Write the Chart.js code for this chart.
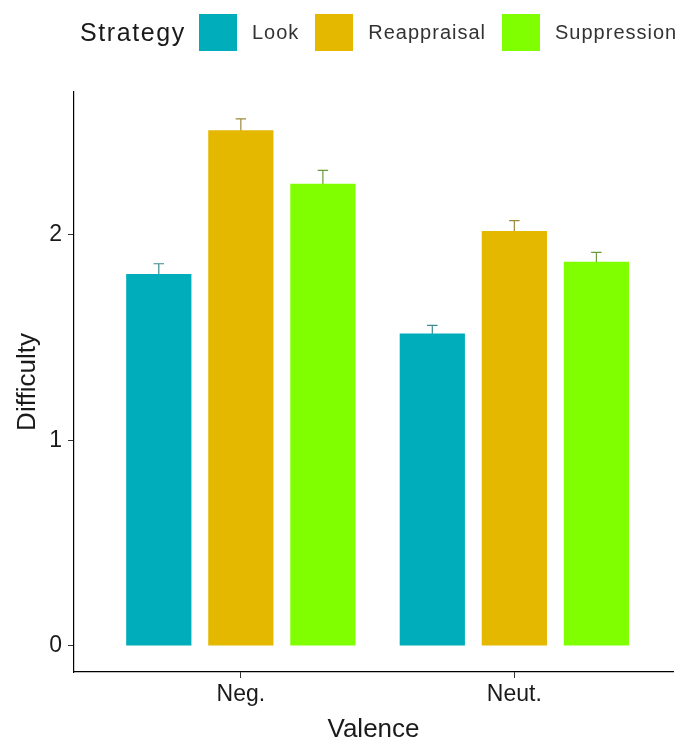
<!DOCTYPE html>
<html>
<head>
<meta charset="utf-8">
<script src="https://cdn.jsdelivr.net/npm/chart.js@4/dist/chart.umd.min.js"></script>
<style>
  html, body { margin: 0; padding: 0; background: #fff; }
  #wrap { position: relative; width: 675px; height: 743px; }
  #chart { position: absolute; left: 0; top: 0; }
  #legend {
    position: absolute; left: 80px; top: 14px; height: 37px;
    display: flex; align-items: center;
    font-family: "Liberation Sans", Arial, sans-serif; color: #1a1a1a;
  }
  #legend .title { font-size: 25px; letter-spacing: 1.6px; margin-right: 13px; }
  #legend .sw { width: 38px; height: 37px; margin-right: 15px; }
  #legend .lab { font-size: 20px; margin-right: 16px; color: #333; letter-spacing: 1px; }
</style>
</head>
<body>
<div id="wrap">
  <canvas id="chart" width="675" height="743"></canvas>
  <div id="legend"></div>
</div>
<script>
// Mean difficulty ratings by valence and regulation strategy, with standard errors
const valence = ['Neg.', 'Neut.'];
const strategies = ['Look', 'Reappraisal', 'Suppression'];
const lookMean = [1.81, 1.52];
const reappraisalMean = [2.51, 2.02];
const suppressionMean = [2.25, 1.87];
const lookSE = [0.05, 0.04];
const reappraisalSE = [0.055, 0.05];
const suppressionSE = [0.065, 0.045];
const yTicks = [0, 1, 2];

const fills = ['#00AEBB', '#E5B800', '#80FF00'];
const errColors = ['#3d8a90', '#9c8a3c', '#6a9a3c'];

const means = [lookMean, reappraisalMean, suppressionMean];
const ses = [lookSE, reappraisalSE, suppressionSE];

// HTML legend: title plus one swatch per strategy
const legend = document.getElementById('legend');
const t = document.createElement('span');
t.className = 'title';
t.textContent = 'Strategy';
legend.appendChild(t);
strategies.forEach((s, i) => {
  const sw = document.createElement('span');
  sw.className = 'sw';
  sw.style.background = fills[i];
  legend.appendChild(sw);
  const lab = document.createElement('span');
  lab.className = 'lab';
  lab.textContent = s;
  legend.appendChild(lab);
});

const datasets = strategies.map((s, i) => ({
  label: s,
  data: valence.map((v, j) => ({ x: j + 1, y: means[i][j] })),
  se: ses[i],
  backgroundColor: fills[i],
  errColor: errColors[i],
  borderWidth: 0,
  categoryPercentage: 0.9,
  barPercentage: 0.795
}));

// Upper error whiskers drawn beneath the bars, so only the part above each bar shows
const errorBars = {
  id: 'errorBars',
  beforeDatasetsDraw(chart) {
    const ctx = chart.ctx;
    const y = chart.scales.y;
    chart.data.datasets.forEach((ds, i) => {
      const meta = chart.getDatasetMeta(i);
      meta.data.forEach((bar, j) => {
        const m = ds.data[j].y, e = ds.se[j];
        const top = y.getPixelForValue(m + e);
        const bot = y.getPixelForValue(m - e);
        const half = bar.width * 0.08;
        ctx.save();
        ctx.strokeStyle = ds.errColor;
        ctx.lineWidth = 1.2;
        ctx.beginPath();
        ctx.moveTo(bar.x, bot); ctx.lineTo(bar.x, top);
        ctx.moveTo(bar.x - half, top); ctx.lineTo(bar.x + half, top);
        ctx.moveTo(bar.x - half, bot); ctx.lineTo(bar.x + half, bot);
        ctx.stroke();
        ctx.restore();
      });
    });
  }
};

const fontFam = '"Liberation Sans", Arial, sans-serif';

new Chart(document.getElementById('chart'), {
  type: 'bar',
  data: { datasets },
  plugins: [errorBars],
  options: {
    responsive: false,
    animation: false,
    layout: { padding: { top: 92, right: 2, bottom: 0, left: 0 } },
    plugins: { legend: { display: false }, tooltip: { enabled: false } },
    scales: {
      x: {
        type: 'linear',
        offset: false,
        min: 0.39,
        max: 2.58,
        afterBuildTicks: s => { s.ticks = valence.map((v, j) => ({ value: j + 1 })); },
        afterFit: s => { s.height = 71; },
        ticks: {
          callback: v => valence[v - 1],
          font: { family: fontFam, size: 23 },
          color: '#1a1a1a',
          padding: 3,
          maxRotation: 0
        },
        grid: { display: true, offset: false, drawOnChartArea: false, drawTicks: true, tickLength: 6, color: '#333' },
        border: { display: true, color: '#000', width: 1.2 },
        title: {
          display: true, text: 'Valence',
          font: { family: fontFam, size: 26 }, color: '#1a1a1a',
          padding: { top: 0, bottom: -2 }
        }
      },
      y: {
        type: 'linear',
        min: -0.127,
        max: 2.696,
        afterBuildTicks: s => { s.ticks = yTicks.map(v => ({ value: v })); },
        afterFit: s => { s.width = 74; },
        ticks: {
          font: { family: fontFam, size: 23 },
          color: '#1a1a1a',
          padding: 6
        },
        grid: { display: true, drawOnChartArea: false, drawTicks: true, tickLength: 6, color: '#333' },
        border: { display: true, color: '#000', width: 1.2 },
        title: {
          display: true, text: 'Difficulty',
          font: { family: fontFam, size: 26 }, color: '#1a1a1a',
          padding: { top: 12, bottom: 0 }
        }
      }
    }
  }
});
</script>
</body>
</html>
